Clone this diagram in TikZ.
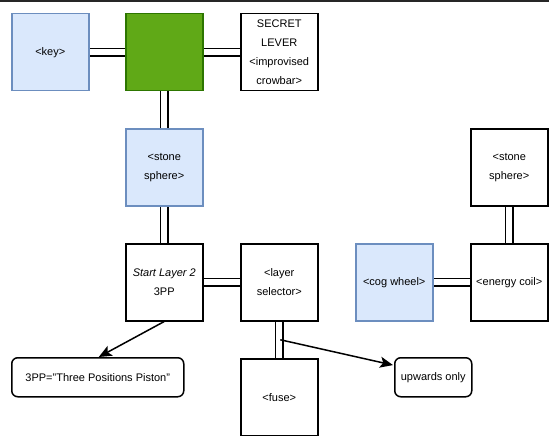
\documentclass[tikz,border=0pt]{standalone}
\usepackage{fontspec}
\setmainfont{Liberation Sans}
\usetikzlibrary{arrows.meta,calc,backgrounds}
\definecolor{bluefill}{HTML}{DAE8FC}
\definecolor{blueline}{HTML}{6C8EBF}
\definecolor{greenfill}{HTML}{60A917}
\definecolor{greenline}{HTML}{2D7600}
\begin{document}
\begin{tikzpicture}[x=1pt,y=-1pt,
 box/.style={draw=black, fill=white, line width=1.5pt, minimum width=77pt, minimum height=77pt, inner sep=0pt, anchor=north west, align=center, font=\fontsize{11}{19}\selectfont},
 bluebox/.style={box, draw=blueline, fill=bluefill},
 greenbox/.style={box, draw=greenline, fill=greenfill},
 note/.style={box, rounded corners=6pt, minimum height=39pt},
 link/.style={draw=black, double=white, line width=1.4pt, double distance=6.2pt},
 arr/.style={draw=black, line width=1.5pt, -{Stealth[length=13pt,width=11pt,inset=3pt]}}
]
\useasboundingbox (0,0) rectangle (549,436);
\coordinate (tl) at (0,1.2);
\coordinate (tr) at (549,1.2);
\draw[line width=2.5pt, black!85] (tl) -- (tr);

\node[bluebox] (key) at (11,13) {<key>};
\node[greenbox] (green) at (125,13) {};
\node[box] (lever) at (240,13) {SECRET\\LEVER\\<improvised\\crowbar>};
\node[bluebox] (stone) at (125,128) {<stone\\sphere>};
\node[box] (start) at (125,243) {\textit{Start Layer 2}\\3PP};
\node[box] (sel) at (240,243) {<layer\\selector>};
\node[box] (fuse) at (240,358) {<fuse>};
\node[bluebox] (cog) at (355,243) {<cog wheel>};
\node[box] (coil) at (470,243) {<energy coil>};
\node[box] (stone2) at (470,128) {<stone\\sphere>};
\node[note, minimum width=172pt] (pp) at (11,357) {3PP="Three Positions Piston"};
\node[note] (up) at (394,357) {upwards only};

\begin{pgfonlayer}{background}
\draw[link] (key.east) -- (green.west);
\draw[link] (green.east) -- (lever.west);
\draw[link] (green.south) -- (stone.north);
\draw[link] (stone.south) -- (start.north);
\draw[link] (start.east) -- (sel.west);
\draw[link] (sel.south) -- (fuse.north);
\draw[link] (cog.east) -- (coil.west);
\draw[link] (stone2.south) -- (coil.north);
\end{pgfonlayer}

\coordinate (mid) at ($(sel.south)!0.5!(fuse.north)+(1,0)$);
\coordinate (uptip) at ($(up.north west)!0.2!(up.south west)+(-1,0)$);
\draw[arr] (start.south) -- ($(pp.north)+(1,0)$);
\draw[arr] (mid) -- (uptip);
\end{tikzpicture}
\end{document}
